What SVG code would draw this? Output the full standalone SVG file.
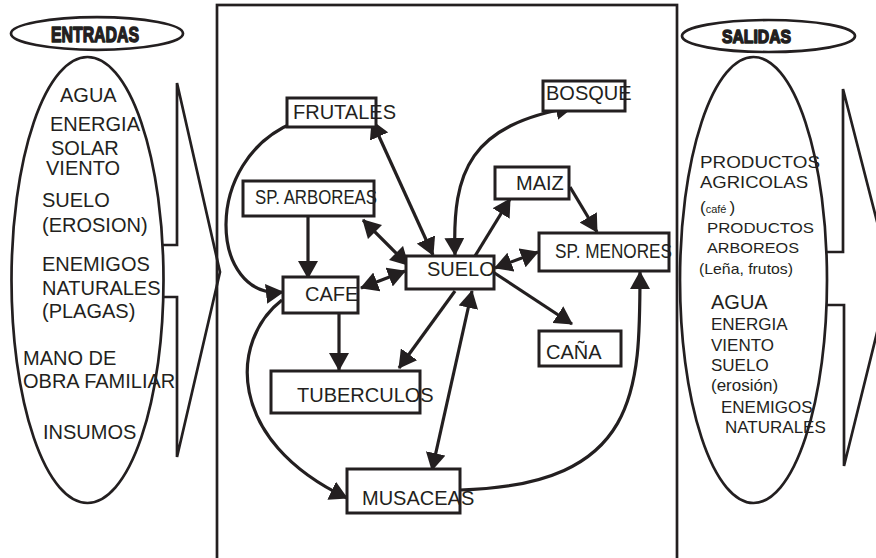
<svg xmlns="http://www.w3.org/2000/svg" width="876" height="558" viewBox="0 0 876 558">
<style>
text{font-family:"Liberation Sans",Arial,sans-serif;fill:#231f20}
.lbl{font-size:20px}
.side{font-size:20px}
.rs{font-size:17px}
.hdr{font-weight:bold;stroke:#231f20;stroke-width:1.5;stroke-linejoin:round}
.box{fill:#fff;stroke:#231f20;stroke-width:3}
.ell{fill:#fff;stroke:#231f20;stroke-width:2.7}
.shape{fill:#fff;stroke:#231f20;stroke-width:2.7;stroke-linejoin:miter}
.c{fill:none;stroke:#231f20;stroke-width:3.2}
.a1{marker-end:url(#ah)}
.a2{marker-start:url(#ah);marker-end:url(#ah)}
</style>
<defs>
<marker id="ah" viewBox="0 0 18 20" refX="17" refY="10" markerWidth="18" markerHeight="20" markerUnits="userSpaceOnUse" orient="auto-start-reverse">
<path d="M0,0 L18,10 L0,20 z" fill="#231f20"/>
</marker>
</defs>
<rect width="876" height="558" fill="#fff"/>

<g id="entradas">
<polygon class="shape" points="177,83 220,272 177,457 177,297 100,297 100,245 177,245"/>
<ellipse class="ell" cx="87.5" cy="280" rx="76" ry="223"/>
<ellipse class="ell" cx="97" cy="33.5" rx="86" ry="16.3"/>
<text class="hdr" x="51" y="41.5" font-size="22" textLength="88" lengthAdjust="spacingAndGlyphs">ENTRADAS</text>
<text class="side" x="60" y="102">AGUA</text>
<text class="side" x="50" y="131">ENERGIA</text>
<text class="side" x="51" y="155">SOLAR</text>
<text class="side" x="46" y="175">VIENTO</text>
<text class="side" x="42" y="207">SUELO</text>
<text class="side" x="42" y="232">(EROSION)</text>
<text class="side" x="42" y="271">ENEMIGOS</text>
<text class="side" x="42" y="295">NATURALES</text>
<text class="side" x="42" y="318">(PLAGAS)</text>
<text class="side" x="23" y="365">MANO DE</text>
<text class="side" x="23" y="388">OBRA FAMILIAR</text>
<text class="side" x="43" y="439">INSUMOS</text>
</g>

<g id="salidas">
<polygon class="shape" points="843,89 891,276 844,466 844,305 760,305 760,252 843,252"/>
<ellipse class="ell" cx="753.5" cy="280" rx="73.5" ry="223"/>
<ellipse class="ell" cx="768.5" cy="36" rx="86.5" ry="16"/>
<text class="hdr" x="722" y="42.5" font-size="19" textLength="69" lengthAdjust="spacingAndGlyphs">SALIDAS</text>
<text x="700" y="168" font-size="16.5" textLength="120" lengthAdjust="spacingAndGlyphs">PRODUCTOS</text>
<text x="700" y="188" font-size="16.5" textLength="108" lengthAdjust="spacingAndGlyphs">AGRICOLAS</text>
<text x="700" y="213"><tspan font-size="17">(</tspan><tspan font-size="11">café </tspan><tspan font-size="17">)</tspan></text>
<text x="707" y="233" font-size="15.5" textLength="107" lengthAdjust="spacingAndGlyphs">PRODUCTOS</text>
<text x="707" y="253" font-size="15.5" textLength="92" lengthAdjust="spacingAndGlyphs">ARBOREOS</text>
<text x="699" y="274" font-size="15" textLength="94" lengthAdjust="spacingAndGlyphs">(Leña, frutos)</text>
<text x="711" y="309" font-size="20">AGUA</text>
<text class="rs" x="711" y="330">ENERGIA</text>
<text class="rs" x="711" y="351">VIENTO</text>
<text class="rs" x="711" y="371">SUELO</text>
<text class="rs" x="711" y="391">(erosión)</text>
<text class="rs" x="721" y="413">ENEMIGOS</text>
<text class="rs" x="725" y="433">NATURALES</text>
</g>

<rect id="frame" x="217" y="5" width="460" height="560" fill="none" stroke="#231f20" stroke-width="2.7"/>

<g id="connectors">
<path class="c a2" d="M372,121 L433,255"/>
<path class="c a2" d="M363,220 L408,265"/>
<path class="c a2" d="M361,288 L405,271"/>
<path class="c a2" d="M495,268 L538,252"/>
<path class="c a1" d="M308,216 L308,278"/>
<path class="c a1" d="M339,314 L339,370"/>
<path class="c a1" d="M295,122 C200,160 210,300 283,292"/>
<path class="c a1" d="M282,300 C230,340 225,440 347,498"/>
<path class="c a1" d="M455,291 L399,368"/>
<path class="c a2" d="M472,291 L432,470"/>
<path class="c a1" d="M493,272 L572,324"/>
<path class="c a1" d="M460,490 C640,485 640,390 640,272"/>
<path class="c a2" d="M455,255 C452,170 470,125 573,107"/>
<path class="c a1" d="M475,256 L510,199"/>
<path class="c a1" d="M570,187 L597,232"/>
</g>

<g id="frutales"><rect class="box" x="287" y="98" width="89" height="29"/><text class="lbl" x="293" y="119">FRUTALES</text></g>
<g id="sp-arboreas"><rect class="box" x="243" y="181" width="131" height="35"/><text class="lbl" x="255" y="204" textLength="122" lengthAdjust="spacingAndGlyphs">SP. ARBOREAS</text></g>
<g id="cafe"><rect class="box" x="283" y="277" width="75" height="36"/><text class="lbl" x="305" y="301">CAFE</text></g>
<g id="tuberculos"><rect class="box" x="271" y="371" width="149" height="42"/><text class="lbl" x="297" y="402">TUBERCULOS</text></g>
<g id="musaceas"><rect class="box" x="347" y="469" width="113" height="44"/><text class="lbl" x="362" y="505">MUSACEAS</text></g>
<g id="suelo"><rect class="box" x="406" y="256" width="88" height="33"/><text class="lbl" x="427" y="276">SUELO</text></g>
<g id="bosque"><rect class="box" x="543" y="81" width="82" height="30"/><text class="lbl" x="546" y="100">BOSQUE</text></g>
<g id="maiz"><rect class="box" x="495" y="167" width="74" height="32"/><text class="lbl" x="516" y="190">MAIZ</text></g>
<g id="sp-menores"><rect class="box" x="539" y="233" width="130" height="38"/><text class="lbl" x="555" y="258" textLength="117" lengthAdjust="spacingAndGlyphs">SP. MENORES</text></g>
<g id="cana"><rect class="box" x="539" y="331" width="82" height="35"/><text class="lbl" x="546" y="359">CAÑA</text></g>
</svg>
